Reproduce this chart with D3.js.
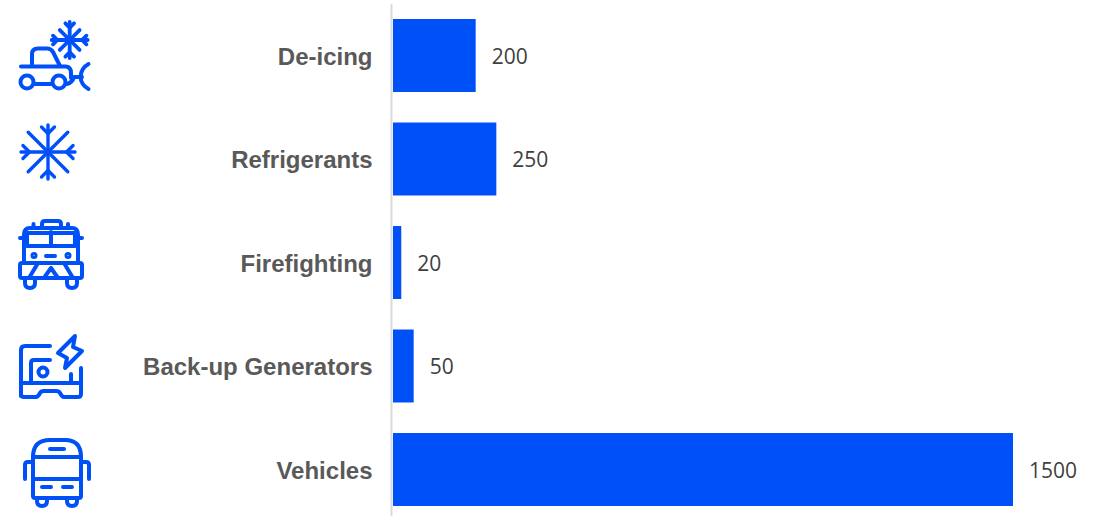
<!DOCTYPE html>
<html>
<head>
<meta charset="utf-8">
<script src="https://cdn.jsdelivr.net/npm/d3@7/dist/d3.min.js"></script>
<style>
html,body{margin:0;padding:0;background:#fff;}
svg{display:block;}
.cat{font-family:"Liberation Sans",Arial,sans-serif;font-weight:700;font-size:24px;fill:#595959;}
.val{font-family:"Open Sans",sans-serif;font-size:21px;fill:#404040;}
.icon path,.icon circle,.icon line{fill:none;stroke:#0050f8;stroke-width:4;stroke-linecap:round;stroke-linejoin:round;}
</style>
</head>
<body>
<svg id="chart" width="1104" height="516"></svg>
<script>
const categories = ["De-icing", "Refrigerants", "Firefighting", "Back-up Generators", "Vehicles"];
const values = [200, 250, 20, 50, 1500];
const barColor = "#0050f8";

const svg = d3.select("#chart");
const x = d3.scaleLinear().domain([0, 1500]).range([393, 1013]);
const y = d3.scaleBand().domain(categories).range([4, 521]).paddingInner(0.295).paddingOuter(0.145);

// Category axis: a plain grey rule with bold labels on its left
const axis = d3.axisLeft(y).tickSize(0).tickPadding(19);
const axisG = svg.append("g").attr("transform", "translate(391.5,1)").call(axis);
axisG.select(".domain").remove();
axisG.selectAll("text").attr("class", "cat").attr("font-family", null).attr("font-size", null).attr("dy", "0.35em");
svg.append("line").attr("x1", 391.5).attr("x2", 391.5).attr("y1", 4).attr("y2", 516)
  .attr("stroke", "#d9d9d9").attr("stroke-width", 2);

svg.selectAll("rect.bar").data(values).join("rect")
  .attr("class", "bar")
  .attr("x", x(0))
  .attr("y", (d, i) => y(categories[i]))
  .attr("width", d => x(d) - x(0))
  .attr("height", y.bandwidth())
  .attr("fill", barColor);

svg.selectAll("text.val").data(values).join("text")
  .attr("class", "val")
  .attr("x", d => x(d) + 16)
  .attr("y", (d, i) => y(categories[i]) + y.bandwidth() / 2 + 1)
  .attr("dy", "0.35em")
  .text(d => d);

// Line icons beside each category
const icons = svg.append("g").attr("class", "icon");

// Eight-armed snowflake: straight arms carry barbs, diagonal arms may be shorter
function flake(cx, cy, r, diagonal, width) {
  const g = icons.append("g").attr("transform", `translate(${cx},${cy})`);
  const b = r * 0.24;
  d3.range(8).forEach(k => {
    const arm = g.append("g").attr("transform", `rotate(${k * 45})`);
    const len = k % 2 === 0 ? r : diagonal;
    arm.append("path").attr("d", `M0 0V${-len}`).style("stroke-width", width);
    if (k % 2 === 0) arm.append("path").attr("d", `M${-b} ${-r + b * 0.3}L0 ${-r + b * 1.3}L${b} ${-r + b * 0.3}`).style("stroke-width", width);
  });
}

// Plough truck with snowflake
flake(69.7, 40, 18, 14, 3.800);
icons.append("path").attr("d", "M21 66.500H66Q71 67 71 73V78");
icons.append("path").attr("d", "M32 66V54Q32 48.500 38 48.500H47Q51 48.500 53 52L60 66");
icons.append("circle").attr("cx", 27).attr("cy", 82).attr("r", 6.500);
icons.append("circle").attr("cx", 59).attr("cy", 82).attr("r", 6.500);
icons.append("path").attr("d", "M34 84H52M67 84Q72 83 74 77H82");
icons.append("path").attr("d", "M88.500 64Q81 68 80.500 77Q81 85 88.500 89");

// Snowflake
flake(48, 152, 27, 28, 3.400);

// Fire engine
icons.append("path").attr("d", "M24 235Q24 228 30 228H72Q78 228 78 235V263H24Z");
icons.append("path").attr("d", "M27 233H75V246H27ZM51 232V246M42 228V224Q42 221 45 221H58Q61 221 61 224V228M33.500 228V224M68 228V224M20 238H24M78 238H82M46 256H55");
icons.append("path").attr("d", "M22 263H80Q82 263 82 265V276Q82 278 80 278H22Q20 278 20 276V265Q20 263 22 263Z");
icons.append("path").attr("d", "M38 263L29 278M51 268L44 278M51 268L58 278M64 263L73 278");
icons.append("path").attr("d", "M25 278V283Q25 288 30 288Q35 288 35 283V278M67 278V283Q67 288 72 288Q77 288 77 283V278");
icons.append("circle").attr("cx", 34).attr("cy", 255.500).attr("r", 1.500);
icons.append("circle").attr("cx", 68).attr("cy", 255.500).attr("r", 1.500);

// Generator with lightning bolt
icons.append("path").attr("d", "M50 346H25Q21 346 21 350V396");
icons.append("path").attr("d", "M50 360H34Q31 360 31 363V383");
icons.append("circle").attr("cx", 43).attr("cy", 372).attr("r", 4.500);
icons.append("path").attr("d", "M21 383H81M81 368V394Q81 397 78 397H64Q62 397 60 393Q59 391 56 391H44Q41 391 40 393Q38 397 36 397H24Q21 397 21 394M71 374V383");
icons.append("path").attr("d", "M75 336L58 353L67 358L65 368L82 351L73 347Z");

// Bus
icons.append("path").attr("d", "M33 457Q33 440 50 440H65Q81 440 81 457V496Q81 498 79 498H35Q33 498 33 496Z");
icons.append("path").attr("d", "M33 457H81M33 479H81M50 449H64M42 487H51M63 487H72");
icons.append("path").attr("d", "M33 462H28Q25 462 25 465V479M81 462H86Q89 462 89 465V479");
icons.append("path").attr("d", "M37 498V501Q37 506 42 506Q47 506 47 501V498M67 498V501Q67 506 72 506Q77 506 77 501V498");
</script>
</body>
</html>
